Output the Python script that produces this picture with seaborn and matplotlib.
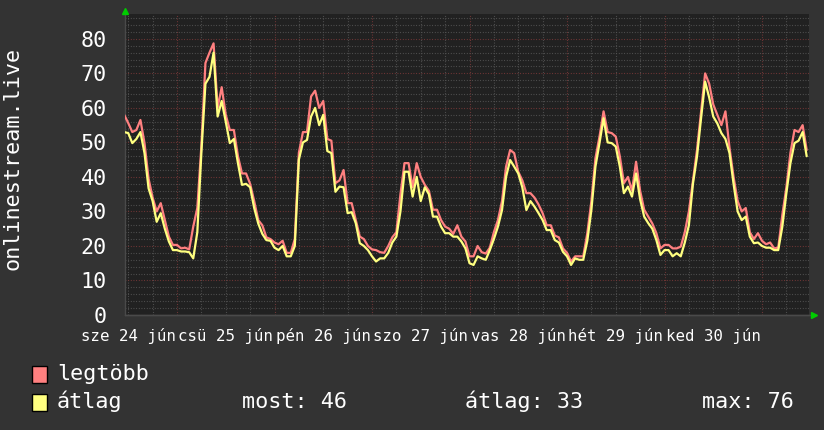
import matplotlib
matplotlib.use("Agg")
import matplotlib.pyplot as plt
import seaborn as sns
import pandas as pd
from matplotlib.patches import Rectangle
from matplotlib.lines import Line2D
from matplotlib.ticker import FixedLocator
from matplotlib.transforms import blended_transform_factory

# ---------------- data (hours since 24 Jun 00:00) ----------------
hours = list(range(11, 180))

max_vals = [
    58, 55.6, 53, 53.6, 56.5, 49.8, 39.5, 34, 30, 32.4, 27.5, 22.7, 20.3, 20.3, 19.3, 19.5, 19, 25.6, 31, 49,
    73, 76, 78.7, 60, 66, 58, 53.6, 53.6, 46, 41, 41, 38, 33, 27.5, 26,
    22.5, 22, 21, 20.5, 21.5, 18, 18, 22, 47, 53, 53, 63.3, 65, 60, 62, 51, 50.5, 38.2, 39, 42,
    32.4, 32.4, 27.5, 22.7, 22, 20, 19, 18.8, 18.2, 18, 20, 22.5, 24, 35,
    44, 44, 37, 44, 40, 37.7, 36, 30.5, 30.5, 27.5, 25.6, 25, 23.5, 26, 22.7, 21.3, 17, 17, 20, 18.2,
    17.8, 19.5, 24, 27.5, 33, 43, 47.8, 46.9, 41.5, 39, 35.3, 35.3, 34, 32, 29.5,
    26, 26, 23, 22.5, 19.3, 18, 15.5, 17, 17, 17, 23.7, 33, 45.4, 51.7, 59, 53, 52.7, 51.7, 46, 38.2,
    40, 36, 44.4, 36, 30.5, 28.5, 26.5, 23.7, 19.3, 20.3, 20.3, 19.3, 19.3, 19.8,
    24, 30, 39, 47.8, 59, 70, 67, 61, 58, 55, 59, 48.5, 40, 33, 30, 31, 24, 22, 23.7, 21.5,
    20.5, 21, 19.3, 19.5, 29, 37, 47, 53.6, 53, 55, 47.8,
]

avg_vals = [
    53, 52.7, 49.8, 51, 53, 46.9, 36.7, 33, 27, 29.5, 25, 21.3, 18.8, 18.8, 18.4, 18.4, 18.2, 16.4, 24, 47,
    67, 69, 76, 57.5, 62, 56, 49.8, 51, 44, 37.7, 38, 37, 31, 26.5, 23.5,
    21.7, 21.5, 19.5, 18.8, 20, 17, 17, 20, 45, 50, 50.7, 57.5, 60, 55, 58, 47.5, 46.9, 35.7, 37.2, 37,
    29.5, 29.8, 26.6, 20.8, 20, 18.8, 17, 15.5, 16.4, 16.4, 18, 21, 22.7, 30,
    41.5, 41.5, 34.3, 40, 33, 37, 35, 28.5, 28.5, 25.6, 23.7, 23.7, 22.7, 22.7, 21.3, 19.3, 15, 14.5, 17, 16.4,
    16, 18.8, 22, 25.6, 30.4, 40, 44.9, 43, 41, 37, 30.4, 33, 31.4, 29.5, 27.5,
    24.6, 24.6, 21.7, 21, 18.3, 17, 14.5, 16.4, 16, 16, 21.5, 30.4, 43, 49.8, 57, 50, 49.8, 48.8, 43, 35.3,
    37.2, 34.3, 41, 33.5, 28.5, 26.6, 25, 21.7, 17.4, 18.8, 18.8, 17, 17.9, 17,
    21, 26, 38, 45.9, 57, 67.6, 63, 57.5, 55.5, 52.7, 51, 46.9, 38, 30, 27.5, 28.5, 22.7, 20.8, 21, 20,
    19.5, 19.5, 18.8, 18.8, 25.6, 35.3, 44, 49.8, 50.5, 53, 46,
]

series_names = ["legtöbb", "átlag"]
series_colors = ["#ff8080", "#ffff80"]
day_labels = ["sze 24 jún", "csü 25 jún", "pén 26 jún", "szo 27 jún",
              "vas 28 jún", "hét 29 jún", "ked 30 jún"]
label_hours = [12, 36, 60, 84, 108, 132, 156]
y_ticks = [0, 10, 20, 30, 40, 50, 60, 70, 80]
y_title = "onlinestream.live"
stat_texts = ["most: 46", "átlag: 33", "max: 76"]

# ---------------- styling ----------------
sns.set_style("dark")
plt.rcParams["font.family"] = ["DejaVu Sans Mono", "DejaVu Sans"]
FS = 15.7
FS_X = 11.3
CANVAS = "#333333"
PLOTBG = "#212121"
TXT = "#ffffff"

W, H = 824, 430
fig = plt.figure(figsize=(W / 100, H / 100), dpi=100, facecolor=CANVAS)
ax = fig.add_axes([125 / W, 1 - 315 / H, (809 - 125) / W, (315 - 14) / H])
ax.set_facecolor(PLOTBG)

df = pd.DataFrame({
    "hour": hours * 2,
    "value": max_vals + avg_vals,
    "series": [series_names[0]] * len(hours) + [series_names[1]] * len(hours),
})
sns.lineplot(data=df, x="hour", y="value", hue="series", hue_order=series_names,
             palette=dict(zip(series_names, series_colors)),
             linewidth=1.6, legend=False, estimator=None, ax=ax, zorder=3)

x0 = 11.2
x1 = x0 + 684 / 4.0625
ax.set_xlim(x0, x1)
ax.set_ylim(0, 87.2)

# grid
midnights = [24 * d for d in range(1, 8)]
six_h = [h for h in range(12, 180, 6) if h % 24]
ax.xaxis.set_major_locator(FixedLocator(midnights))
ax.xaxis.set_minor_locator(FixedLocator(six_h))
ax.yaxis.set_major_locator(FixedLocator(y_ticks))
ax.yaxis.set_minor_locator(FixedLocator([v for v in range(2, 88, 2) if v % 10]))
dot = (0, (0.8, 1.6))
ax.grid(which="major", color="#7a3838", linestyle=dot, linewidth=0.8)
ax.grid(which="minor", color="#555555", linestyle=dot, linewidth=0.8)
ax.tick_params(which="both", length=0)
ax.tick_params(axis="y", labelsize=FS, labelcolor=TXT, pad=13)
ax.set_xticklabels([])
ax.set_yticklabels([str(v) for v in y_ticks], fontsize=FS, color=TXT)
ax.set_xlabel("")
ax.set_ylabel("")
for s in ["top", "right"]:
    ax.spines[s].set_visible(False)
for s in ["left", "bottom"]:
    ax.spines[s].set_color("#4a4a4a")
    ax.spines[s].set_linewidth(1)

# x labels (one per day, centred at noon)
trans = blended_transform_factory(ax.transData, fig.transFigure)
for h, lab in zip(label_hours, day_labels):
    ax.text(h, 1 - 341 / H, lab, transform=trans, ha="center", va="baseline",
            fontsize=FS_X, color=TXT, clip_on=False)

# y title
fig.text(13 / W, 1 - 158 / H, y_title, rotation=90, ha="center", va="center",
         fontsize=FS, color=TXT)

# arrows
fig.add_artist(Line2D([125.5 / W], [1 - 11 / H], marker="^", color="#00cc00",
                      markersize=5, linestyle="none", transform=fig.transFigure))
fig.add_artist(Line2D([125 / W, 812 / W], [1 - 315 / H, 1 - 315 / H], color="#4a4a4a",
                      linewidth=1, transform=fig.transFigure))
fig.add_artist(Line2D([814 / W], [1 - 315 / H], marker=">", color="#00cc00",
                      markersize=5, linestyle="none", transform=fig.transFigure))

# legend
for i, (name, col) in enumerate(zip(series_names, series_colors)):
    yc = 374.5 + 27.5 * i
    fig.add_artist(Rectangle((32 / W, 1 - (yc + 8.5) / H), 15 / W, 17 / H,
                             facecolor=col, edgecolor="black", linewidth=1,
                             transform=fig.transFigure))
    fig.text(57 / W, 1 - (yc + 6) / H, name, ha="left", va="baseline",
             fontsize=FS, color=TXT)

for xs, t in zip([242, 465, 702], stat_texts):
    fig.text(xs / W, 1 - 408.5 / H, t, ha="left", va="baseline", fontsize=FS, color=TXT)

fig.savefig("out.png", dpi=100, facecolor=CANVAS)
